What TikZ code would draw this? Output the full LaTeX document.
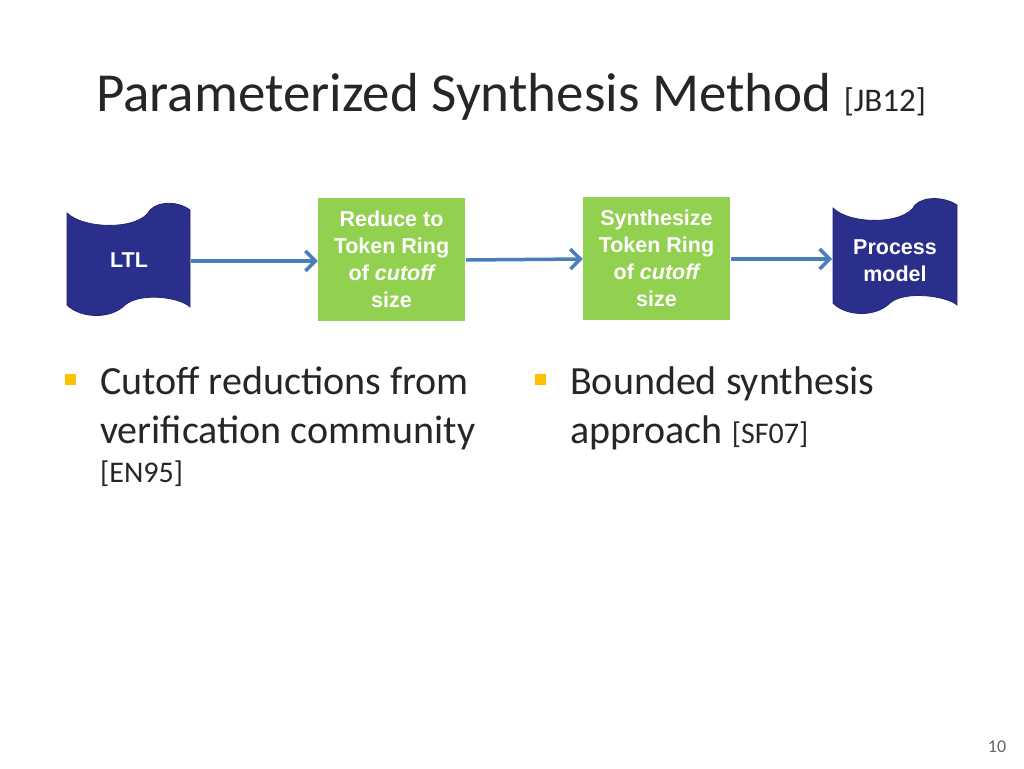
\documentclass[tikz,border=0pt]{standalone}
\usepackage{fontspec}
\setmainfont{Carlito}
\newfontfamily\arialf{Liberation Sans}
\begin{document}
\begin{tikzpicture}[x=1pt,y=-1pt,
  gbox/.style={draw=none, minimum width=147pt, minimum height=123pt, inner sep=0pt},
  wtxt/.style={text=white, font=\arialf\bfseries\fontsize{21.5}{27}\selectfont, align=center},
  arr/.style={draw=arrowc, line width=3.5pt, -{Straight Barb[length=10pt,width=20pt]}},
  btxt/.style={anchor=base west, font=\fontsize{40}{49}\selectfont, text=black!85, inner sep=0pt},
  stxt/.style={font=\fontsize{30}{36}\selectfont},
  bul/.style={fill=bulc, minimum size=11pt, inner sep=0pt}]
\definecolor{tapec}{HTML}{2B2F8C}
\definecolor{greenc}{HTML}{92D050}
\definecolor{arrowc}{HTML}{4A7EBB}
\definecolor{bulc}{HTML}{FFC000}
\usetikzlibrary{arrows.meta}
\useasboundingbox (0,0) rectangle (1024,768);
\fill[white] (0,0) rectangle (1024,768);
\node[anchor=base west, inner sep=0pt, font=\fontsize{55}{60}\selectfont, text=black!85] (title) at (96,111) {Parameterized Synthesis Method {\fontsize{33}{36}\selectfont[JB12]}};
% tapes
\draw[fill=tapec, draw=tapec!80!black, line width=0.8pt] (67,213) .. controls (85,230) and (140,230) .. (150,210) .. controls (160,200) and (180,202) .. (190,210) -- (190,307) .. controls (180,297) and (140,292) .. (125,305) .. controls (110,320) and (80,318) .. (67,305) -- cycle;
\node[wtxt] (ltl) at (129,260) {LTL};
\draw[fill=tapec, draw=tapec!80!black, line width=0.8pt] (833,208) .. controls (850,225) and (905,225) .. (915,205) .. controls (925,195) and (947,198) .. (957,205) -- (957,305) .. controls (947,296) and (905,290) .. (890,303) .. controls (875,318) and (845,316) .. (833,303) -- cycle;
\node[wtxt] (pm) at (895,261) {Process\\model};
\node[gbox, fill=greenc] (b1) at (391.5,259.5) {};
\node[wtxt] at (b1) {Reduce to\\Token Ring\\of \itshape cutoff\\size};
\node[gbox, fill=greenc] (b2) at (656.5,258.5) {};
\node[wtxt] at (b2) {Synthesize\\Token Ring\\of \itshape cutoff\\size};
\coordinate (a1) at (191,261); \coordinate (a2) at (466,260); \coordinate (a3) at (731,259); \coordinate (e3) at (832,259);
\draw[arr] (a1) -- (b1.west |- a1);
\draw[arr] (a2) -- (b2.west |- 0,259);
\draw[arr] (a3) -- (e3);
% bullets
\node[bul] (u1) at (70,379) {};
\node[btxt] (t1a) at (100,394) {Cutoff reductions from};
\node[btxt] (t1b) at (100,443) {verification community};
\node[btxt, stxt] (t1c) at (100,482) {[EN95]};
\node[bul] (u2) at (540,379) {};
\node[btxt] (t2a) at (570,394) {Bounded synthesis};
\node[btxt] (t2b) at (570,443) {approach {\fontsize{30}{36}\selectfont[SF07]}};
\node[anchor=base, font=\fontsize{18}{20}\selectfont, text=black!60] (pg) at (997,752) {10};
\end{tikzpicture}
\end{document}
